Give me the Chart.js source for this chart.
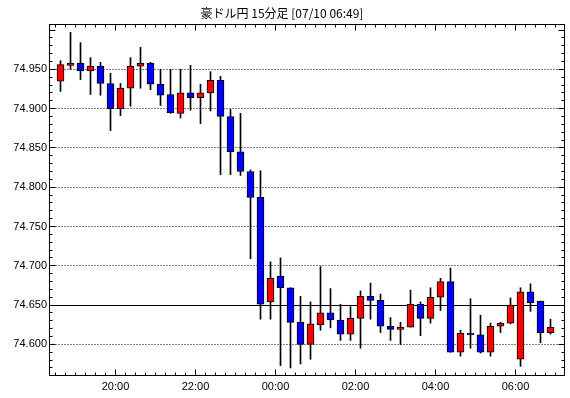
<!DOCTYPE html>
<html>
<head>
<meta charset="utf-8">
<script src="https://cdn.jsdelivr.net/npm/chart.js@4/dist/chart.umd.min.js"></script>
<style>
  html, body { margin: 0; padding: 0; background: #fff; }
</style>
</head>
<body>
<canvas id="chart" width="570" height="398"></canvas>
<script>
// 15-minute candles, start time of each bar
const times = [
    '18:30', '18:45', '19:00', '19:15', '19:30', '19:45', '20:00', '20:15', '20:30', '20:45',
    '21:00', '21:15', '21:30', '21:45', '22:00', '22:15', '22:30', '22:45', '23:00', '23:15',
    '23:30', '23:45', '00:00', '00:15', '00:30', '00:45', '01:00', '01:15', '01:30', '01:45',
    '02:00', '02:15', '02:30', '02:45', '03:00', '03:15', '03:30', '03:45', '04:00', '04:15',
    '04:30', '04:45', '05:00', '05:15', '05:30', '05:45', '06:00', '06:15', '06:30', '06:45'
];
const open = [
    74.935, 74.955, 74.958, 74.948, 74.954, 74.932, 74.900, 74.926, 74.954, 74.958,
    74.931, 74.918, 74.894, 74.920, 74.914, 74.920, 74.936, 74.890, 74.845, 74.820,
    74.787, 74.654, 74.687, 74.672, 74.628, 74.600, 74.625, 74.640, 74.631, 74.613,
    74.633, 74.661, 74.656, 74.623, 74.619, 74.622, 74.651, 74.633, 74.660, 74.680,
    74.590, 74.614, 74.612, 74.590, 74.623, 74.627, 74.581, 74.667, 74.655, 74.615
];
const high = [
    74.961, 74.997, 74.984, 74.965, 74.959, 74.945, 74.932, 74.965, 74.978, 74.959,
    74.950, 74.950, 74.950, 74.955, 74.931, 74.947, 74.941, 74.899, 74.894, 74.822,
    74.821, 74.705, 74.710, 74.672, 74.661, 74.654, 74.699, 74.671, 74.651, 74.648,
    74.668, 74.678, 74.664, 74.634, 74.628, 74.669, 74.654, 74.672, 74.684, 74.697,
    74.618, 74.658, 74.637, 74.627, 74.628, 74.659, 74.672, 74.677, 74.655, 74.632
];
const low = [
    74.922, 74.950, 74.937, 74.918, 74.917, 74.872, 74.891, 74.903, 74.926, 74.924,
    74.904, 74.894, 74.888, 74.898, 74.881, 74.897, 74.816, 74.816, 74.815, 74.709,
    74.632, 74.632, 74.573, 74.570, 74.575, 74.581, 74.618, 74.621, 74.605, 74.605,
    74.595, 74.632, 74.615, 74.605, 74.600, 74.622, 74.611, 74.627, 74.643, 74.590,
    74.585, 74.595, 74.589, 74.585, 74.615, 74.626, 74.572, 74.642, 74.602, 74.613
];
const close = [
    74.956, 74.958, 74.948, 74.954, 74.932, 74.900, 74.926, 74.954, 74.958, 74.931,
    74.917, 74.895, 74.920, 74.914, 74.920, 74.936, 74.890, 74.845, 74.820, 74.787,
    74.651, 74.684, 74.672, 74.628, 74.600, 74.626, 74.640, 74.631, 74.613, 74.633,
    74.661, 74.656, 74.623, 74.619, 74.622, 74.651, 74.633, 74.660, 74.680, 74.590,
    74.614, 74.612, 74.590, 74.623, 74.627, 74.650, 74.667, 74.653, 74.615, 74.622
];

const yTicks = [74.600, 74.650, 74.700, 74.750, 74.800, 74.850, 74.900, 74.950];
const xTickLabels = ['20:00', '22:00', '00:00', '02:00', '04:00', '06:00'];
const baseLine = 74.650;
const titleText = '豪ドル円 15分足 [07/10 06:49]';

const UP = '#ff0000';
const DOWN = '#0000ff';
const labelFont = { family: '"Liberation Sans", Arial, sans-serif', size: 11 };

// grid lines, frame and inward tick marks
const frame = {
    id: 'frame',
    beforeDatasetsDraw(chart) {
        const { ctx, chartArea: a, scales: { x, y } } = chart;
        const L = a.left + 0.5, R = a.right + 0.5, T = a.top + 0.5, B = a.bottom + 0.5;
        ctx.save();
        ctx.lineWidth = 1;
        ctx.strokeStyle = '#000';

        yTicks.forEach(v => {
            const py = Math.floor(y.getPixelForValue(v)) + 0.5;
            ctx.setLineDash(v === baseLine ? [] : [1, 2]);
            ctx.beginPath();
            ctx.moveTo(L, py);
            ctx.lineTo(R, py);
            ctx.stroke();
        });
        ctx.setLineDash([]);

        ctx.beginPath();
        const majorX = xTickLabels.map(t => times.indexOf(t));
        for (let i = 0; i <= times.length; i++) {
            const px = Math.floor(x.getPixelForValue(i)) + 0.5;
            const len = majorX.includes(i) ? 6 : 3;
            ctx.moveTo(px, T); ctx.lineTo(px, T + len);
            ctx.moveTo(px, B); ctx.lineTo(px, B - len);
        }
        for (let k = Math.ceil(y.min * 100); k <= Math.floor(y.max * 100); k++) {
            const py = Math.floor(y.getPixelForValue(k / 100)) + 0.5;
            const len = k % 5 === 0 ? 6 : 3;
            ctx.moveTo(L, py); ctx.lineTo(L + len, py);
            ctx.moveTo(R, py); ctx.lineTo(R - len, py);
        }
        ctx.stroke();

        ctx.strokeRect(L, T, a.right - a.left, a.bottom - a.top);
        ctx.restore();
    }
};

const colors = open.map((o, i) => close[i] >= o ? UP : DOWN);

new Chart(document.getElementById('chart'), {
    type: 'bar',
    data: {
        datasets: [
            {
                label: 'body',
                data: open.map((o, i) => ({ x: i + 0.5, y: [o, close[i]] })),
                backgroundColor: colors,
                borderColor: '#000',
                borderWidth: 1,
                borderSkipped: false,
                barThickness: 7,
                grouped: false,
                order: 1
            },
            {
                label: 'wick',
                data: low.map((l, i) => ({ x: i + 0.5, y: [l, high[i]] })),
                backgroundColor: '#000',
                borderWidth: 0,
                barThickness: 1,
                grouped: false,
                order: 2
            }
        ]
    },
    options: {
        responsive: false,
        devicePixelRatio: 1,
        animation: false,
        layout: { padding: { left: 0, right: 6, top: 0, bottom: 0 } },
        plugins: {
            legend: { display: false },
            tooltip: { enabled: false },
            title: {
                display: true,
                text: titleText,
                color: '#000',
                font: { family: '"Noto Sans CJK JP", sans-serif', size: 12, weight: 'normal' },
                padding: { top: 6, bottom: 3.6 }
            }
        },
        scales: {
            x: {
                type: 'linear',
                offset: false,
                min: -0.65,
                max: 50.85,
                grid: { display: false, drawTicks: false, offset: false },
                border: { display: false },
                afterFit: s => { s.height = 23; },
                afterBuildTicks: s => { s.ticks = xTickLabels.map(t => ({ value: times.indexOf(t) })); },
                ticks: {
                    autoSkip: false,
                    maxRotation: 0,
                    padding: 5,
                    color: '#000',
                    font: labelFont,
                    callback: v => times[v]
                }
            },
            y: {
                min: 74.561,
                max: 75.0077,
                grid: { display: false, drawTicks: false },
                border: { display: false },
                afterFit: s => { s.width = 49; },
                afterBuildTicks: s => { s.ticks = yTicks.map(v => ({ value: v })); },
                ticks: {
                    padding: 2,
                    color: '#000',
                    font: labelFont,
                    callback: v => v.toFixed(3)
                }
            }
        }
    },
    plugins: [frame]
});
</script>
</body>
</html>
